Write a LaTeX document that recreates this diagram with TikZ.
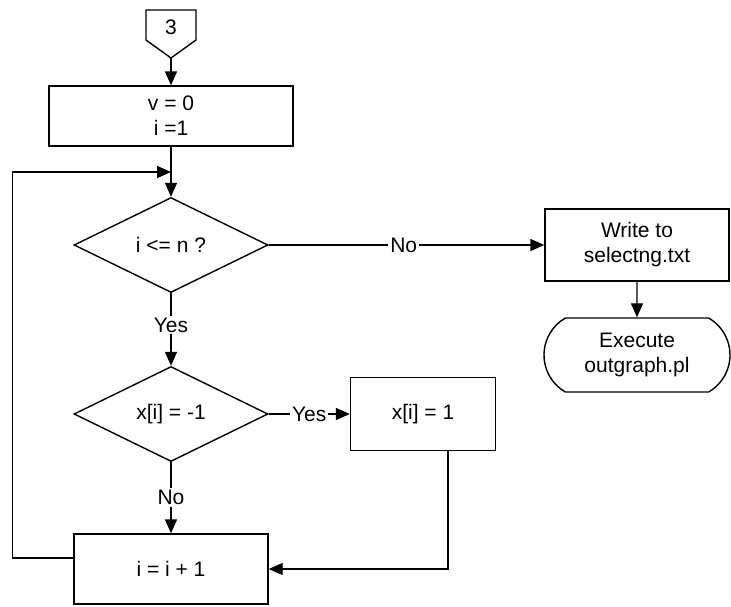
\documentclass[tikz,border=0pt]{standalone}
\usepackage{fontspec}
\setmainfont{Liberation Sans}
\usetikzlibrary{shapes.geometric,shapes.misc,arrows.meta}
\begin{document}
\begin{tikzpicture}[x=1pt,y=-1pt,line width=1.4pt,font=\fontsize{21}{25}\selectfont]
            \tikzstyle{arrow}=[-{Triangle[length=14pt,width=12pt]}]
            \tikzstyle{process}=[draw,rectangle,align=center,inner sep=0pt]
            \tikzstyle{decision}=[draw,diamond,inner sep=0pt,minimum width=194pt,minimum height=95pt]
            \tikzstyle{edgetext}=[fill=white,inner sep=2pt]
            \useasboundingbox (0,0) rectangle (731,606);
            % off-page connector
            \node (conn) at (171,27) {3};
            \draw (146,10) -- (196,10) -- (196,40) -- (171,58) -- (146,40) -- cycle;
            \coordinate (conntip) at (171,58);
            % main column
            \node[process,minimum width=244pt,minimum height=60pt] (init) at (171,116) {v = 0\\i =1};
            \coordinate (merge) at (171,172);
            \node[decision] (test) at (171,245) {i <= n ?};
            \node[decision] (check) at (171,414) {x[i] = -1};
            \node[process,minimum width=194pt,minimum height=70pt] (inc) at (171,569) {i = i + 1};
            % right side
            \node[process,minimum width=184pt,minimum height=72pt] (write) at (637,245) {Write to\\selectng.txt};
            \node[draw,rounded rectangle,rounded rectangle arc length=120,inner sep=0pt,minimum width=186pt,minimum height=74pt,align=center] (exec) at (637,355) {Execute\\outgraph.pl};
            \node[process,minimum width=145pt,minimum height=73pt] (set) at (423,414) {x[i] = 1};
            % connections
            \draw[arrow] (conntip) -- (init);
            \draw (init) -- (merge);
            \draw[arrow] (merge) -- (test);
            \draw[arrow] (test) -- node[edgetext,pos=0.49] {No} (write);
            \draw[arrow] (write) -- (exec);
            \draw[arrow] (test) -- node[edgetext,pos=0.44] {Yes} (check);
            \draw[arrow] (check) -- node[edgetext] {Yes} (set);
            \draw[arrow] (check) -- node[edgetext] {No} (inc);
            \draw[arrow] ([xshift=25pt]set.south) |- (inc.east);
            % loop back
            \draw[arrow] ([yshift=11pt]inc.west) -- ++(-61,0) |- (merge);
\end{tikzpicture}
\end{document}
